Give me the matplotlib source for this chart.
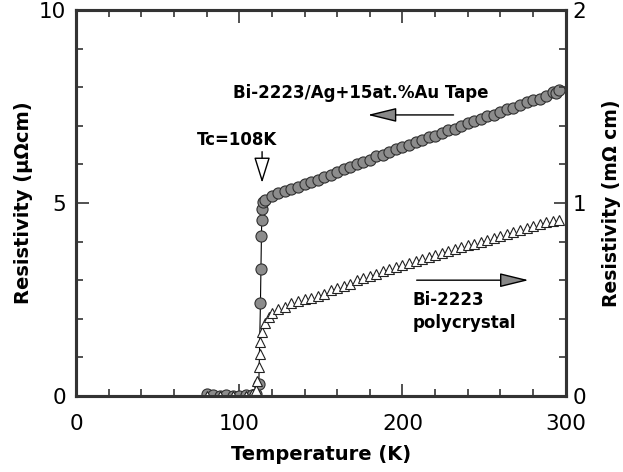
import matplotlib
matplotlib.use('Agg')
import matplotlib.pyplot as plt
from matplotlib.ticker import MultipleLocator

plt.rcParams['font.family'] = ['DejaVu Sans']

# Bi-2223/Ag+15at.%Au tape, left axis (uOhm cm)
tape_T = [80, 84, 88, 92, 96, 100, 104, 108, 110, 112, 113, 113.3, 113.6, 113.8, 114, 114.5,
          116, 120, 124, 128, 132, 136, 140, 144, 148, 152, 156, 160, 164, 168, 172, 176,
          180, 184, 188, 192, 196, 200, 204, 208, 212, 216, 220, 224, 228, 232, 236, 240,
          244, 248, 252, 256, 260, 264, 268, 272, 276, 280, 284, 288, 292, 294, 296]
tape_rho = [0.05, 0.02, 0.0, 0.02, 0.0, 0.0, 0.02, 0.02, 0.05, 0.3, 2.41, 3.29, 4.14, 4.56, 4.85, 5.02,
            5.08, 5.18, 5.26, 5.30, 5.37, 5.42, 5.48, 5.55, 5.60, 5.68, 5.72, 5.80, 5.87, 5.92, 6.00, 6.06,
            6.12, 6.21, 6.25, 6.33, 6.41, 6.46, 6.51, 6.58, 6.64, 6.70, 6.74, 6.82, 6.88, 6.92, 7.00, 7.06,
            7.11, 7.18, 7.25, 7.29, 7.36, 7.43, 7.47, 7.53, 7.61, 7.66, 7.70, 7.78, 7.88, 7.85, 7.92]

# Bi-2223 polycrystal, right axis (mOhm cm)
poly_T = [80, 88, 96, 104, 108, 110, 111, 112, 112.5, 113, 114, 116, 118, 120, 124, 128, 132,
          136, 140, 144, 148, 152, 156, 160, 164, 168, 172, 176, 180, 184, 188, 192, 196, 200,
          204, 208, 212, 216, 220, 224, 228, 232, 236, 240, 244, 248, 252, 256, 260, 264, 268,
          272, 276, 280, 284, 288, 292, 296]
poly_rho = [0.0, 0.0, 0.0, 0.0, 0.01, 0.03, 0.08, 0.15, 0.22, 0.28, 0.33, 0.38, 0.41, 0.43, 0.45, 0.46, 0.48,
            0.49, 0.50, 0.51, 0.52, 0.53, 0.55, 0.56, 0.57, 0.58, 0.60, 0.61, 0.62, 0.63, 0.65, 0.66, 0.67, 0.68,
            0.69, 0.70, 0.71, 0.72, 0.73, 0.74, 0.75, 0.76, 0.77, 0.78, 0.79, 0.80, 0.81, 0.82, 0.83, 0.84, 0.85,
            0.86, 0.87, 0.88, 0.89, 0.90, 0.905, 0.91]

fig = plt.figure(figsize=(6.23, 4.72), dpi=100)
ax = fig.add_axes([0.122, 0.161, 0.786, 0.818])
ax2 = ax.twinx()

ax.plot(tape_T, tape_rho, color='black', lw=0.8, zorder=2)
ax.plot(tape_T, tape_rho, ls='none', marker='o', ms=8, mfc='#8c8c8c', mec='#303030', mew=0.8, zorder=3)
ax2.plot(poly_T, poly_rho, ls='none', marker='^', ms=6.5, mfc='white', mec='#222222', mew=0.8)

ax.set_xlim(0, 300)
ax.set_ylim(0, 10)
ax2.set_ylim(0, 2)

ax.xaxis.set_major_locator(MultipleLocator(100))
ax.xaxis.set_minor_locator(MultipleLocator(20))
ax.yaxis.set_major_locator(MultipleLocator(5))
ax.yaxis.set_minor_locator(MultipleLocator(1))
ax2.yaxis.set_major_locator(MultipleLocator(1))
ax2.yaxis.set_minor_locator(MultipleLocator(0.2))

ax.tick_params(which='both', direction='in', top=True, right=False, width=1.2, color='#333333')
ax.tick_params(which='major', length=9, labelsize=15.5, pad=7)
ax.tick_params(axis='x', which='major', pad=13)
ax.tick_params(which='minor', length=5)
ax2.tick_params(which='both', direction='in', width=1.2, color='#333333')
ax2.tick_params(which='major', length=9, labelsize=15.5, pad=5)
ax2.tick_params(which='minor', length=5)
for a in (ax, ax2):
    for s in a.spines.values():
        s.set_linewidth(2.2)
        s.set_color('#333333')

ax.set_xlabel('Temperature (K)', fontsize=14, fontweight='bold', labelpad=8)
ax.set_ylabel('Resistivity (μΩcm)', fontsize=14, fontweight='bold', labelpad=4)
ax2.set_ylabel('Resistivity (mΩ cm)', fontsize=13.5, fontweight='bold', labelpad=11)

fs = 12
ax.text(96, 7.85, 'Bi-2223/Ag+15at.%Au Tape', fontsize=fs, fontweight='bold', va='center', ha='left')
ax.annotate('', xy=(177, 7.28), xytext=(233, 7.28),
            arrowprops=dict(arrowstyle='-|>,head_length=0.9,head_width=0.22', color='black', lw=1,
                            mutation_scale=20, fc='#888888'))
ax.text(98.6, 6.63, 'Tc=108K', fontsize=fs, fontweight='bold', va='center', ha='center')
ax.annotate('', xy=(114, 5.45), xytext=(114, 6.4),
            arrowprops=dict(arrowstyle='-|>,head_length=0.8,head_width=0.25', color='black', lw=1,
                            mutation_scale=20, fc='white'))
ax.text(206, 2.49, 'Bi-2223', fontsize=fs, fontweight='bold', va='center', ha='left')
ax.text(206, 1.89, 'polycrystal', fontsize=fs, fontweight='bold', va='center', ha='left')
ax.annotate('', xy=(279, 3.0), xytext=(207, 3.0),
            arrowprops=dict(arrowstyle='-|>,head_length=0.9,head_width=0.22', color='black', lw=1,
                            mutation_scale=20, fc='#888888'))

fig.savefig('out.png', dpi=100)
